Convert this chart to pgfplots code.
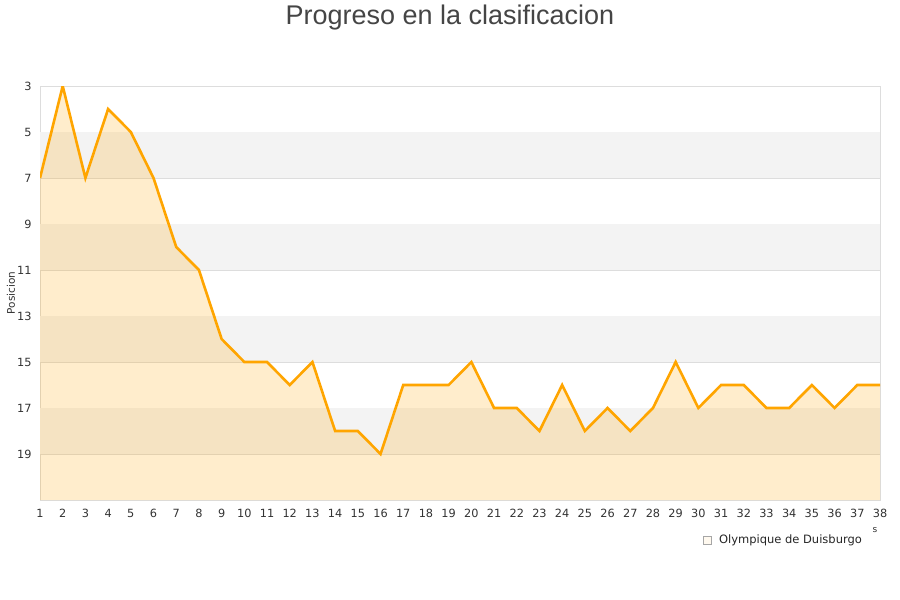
\documentclass[border=0pt]{standalone}
\usepackage{pgfplots}
\pgfplotsset{compat=1.18}
\usepackage{fontspec}
\setmainfont{DejaVu Sans}
\newfontfamily\titlefont{Liberation Sans}
\definecolor{lineor}{HTML}{FFA500}
\definecolor{band}{HTML}{F3F3F3}
\definecolor{gridc}{HTML}{DDDDDD}
\definecolor{txt}{HTML}{333333}
\begin{document}
\begin{tikzpicture}[x=1pt,y=1pt]
\path[use as bounding box,fill=white] (0,0) rectangle (900,600);
\node[font=\titlefont\fontsize{27}{30}\selectfont, text=black!73] at (450,582) {Progreso en la clasificacion};
\node[rotate=90, font=\fontsize{10.5}{12}\selectfont, text=txt] at (11,307) {Posicion};
\begin{axis}[
  at={(40pt,100pt)}, anchor=south west,
  width=840pt, height=414pt, scale only axis,
  xmin=1, xmax=38, ymin=3, ymax=21, y dir=reverse,
  xtick={1,...,38}, ytick={3,5,...,19},
  major tick length=0pt,
  axis line style={gridc},
  ymajorgrids, grid style={gridc, line width=0.8pt},
  tick label style={font=\fontsize{11.3}{12}\selectfont, text=txt},
  /pgf/number format/assume math mode=true,
  xticklabel style={yshift=-5.5pt},
  yticklabel style={xshift=-5pt},
  clip=true,
  legend style={at={(rel axis cs:0.786,-0.075)}, anchor=north west, draw=none, fill=none,
    font=\fontsize{11.5}{12}\selectfont, text=black!85, legend cell align=left},
  legend image code/.code={\draw[fill=lineor!30, draw=gray!70, line width=0.6pt] (0pt,-4pt) rectangle (8pt,4pt);},
]
\fill[band] (axis cs:1,5) rectangle (axis cs:38,7);
\fill[band] (axis cs:1,9) rectangle (axis cs:38,11);
\fill[band] (axis cs:1,13) rectangle (axis cs:38,15);
\fill[band] (axis cs:1,17) rectangle (axis cs:38,19);
\addplot[draw=none, fill=lineor, fill opacity=0.2] coordinates {
(1,21) (1,7) (2,3) (3,7) (4,4) (5,5) (6,7) (7,10) (8,11) (9,14) (10,15)
(11,15) (12,16) (13,15) (14,18) (15,18) (16,19) (17,16) (18,16) (19,16) (20,15)
(21,17) (22,17) (23,18) (24,16) (25,18) (26,17) (27,18) (28,17) (29,15) (30,17)
(31,16) (32,16) (33,17) (34,17) (35,16) (36,17) (37,16) (38,16) (38,21)} -- cycle;
\addlegendentry{\hspace{5pt}Olympique de Duisburgo}
\addplot[lineor, line width=2.6pt, mark=none, forget plot] coordinates {
(1,7) (2,3) (3,7) (4,4) (5,5) (6,7) (7,10) (8,11) (9,14) (10,15)
(11,15) (12,16) (13,15) (14,18) (15,18) (16,19) (17,16) (18,16) (19,16) (20,15)
(21,17) (22,17) (23,18) (24,16) (25,18) (26,17) (27,18) (28,17) (29,15) (30,17)
(31,16) (32,16) (33,17) (34,17) (35,16) (36,17) (37,16) (38,16)};
\end{axis}
\node[font=\fontsize{9}{9}\selectfont, text=txt] at (875,70) {s};
\end{tikzpicture}
\end{document}
